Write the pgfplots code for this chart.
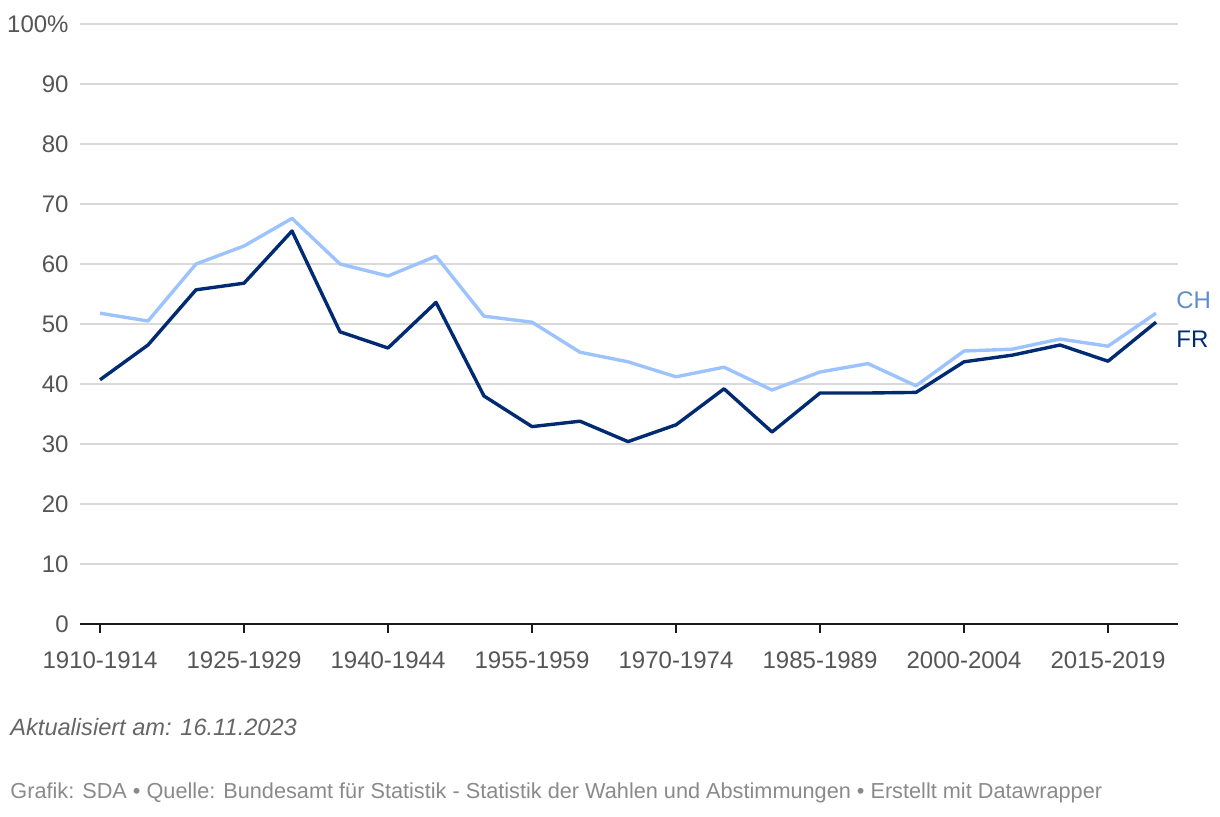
\documentclass[border=0pt]{standalone}
\usepackage{fontspec}
\setmainfont{Liberation Sans}
\usepackage{pgfplots}
\pgfplotsset{compat=1.18}
\definecolor{chblue}{HTML}{9DC3FF}
\definecolor{chlabel}{HTML}{5F8CCB}
\definecolor{frnavy}{HTML}{002B73}
\definecolor{gridgray}{HTML}{D9D9D9}
\definecolor{ticktext}{HTML}{555555}
\definecolor{updtext}{HTML}{666666}
\definecolor{foottext}{HTML}{8A8A8A}
\begin{document}
\begin{tikzpicture}[x=1pt,y=1pt]
\path[use as bounding box] (0,0) rectangle (610,408);
\begin{axis}[
  at={(40pt,96pt)}, anchor=south west,
  scale only axis, width=549pt, height=300pt,
  xmin=-0.4167, xmax=22.458, ymin=0, ymax=100,
  axis x line*=bottom, axis y line*=left,
  y axis line style={draw=none},
  x axis line style={draw=black!90, line width=0.9pt},
  xtick={0,3,6,9,12,15,18,21},
  xticklabels={1910-1914,1925-1929,1940-1944,1955-1959,1970-1974,1985-1989,2000-2004,2015-2019},
  ytick={0,10,...,100},
  yticklabels={0,10,20,30,40,50,60,70,80,90,100\%},
  ymajorgrids, grid style={gridgray, line width=0.7pt},
  tick align=outside, major tick length=4.5pt,
  xtick style={black!90, line width=0.9pt},
  ytick style={draw=none},
  tick label style={font=\fontsize{12}{14}\selectfont, text=ticktext},
  xticklabel style={anchor=north, inner sep=0pt, yshift=-9pt},
  yticklabel style={anchor=east, inner sep=0pt, xshift=-1pt},
  /pgf/number format/assume math mode=true,
  clip=false,
]
\addplot[chblue, line width=1.7pt, line join=round] table {
0 51.8
1 50.5
2 60.0
3 63.0
4 67.6
5 60.0
6 58.0
7 61.3
8 51.3
9 50.3
10 45.3
11 43.7
12 41.2
13 42.8
14 39.0
15 42.0
16 43.4
17 39.7
18 45.5
19 45.8
20 47.5
21 46.3
22 51.8
};
\addplot[frnavy, line width=1.7pt, line join=round] table {
0 40.7
1 46.5
2 55.7
3 56.8
4 65.5
5 48.7
6 46.0
7 53.6
8 38.0
9 32.9
10 33.8
11 30.4
12 33.2
13 39.2
14 32.0
15 38.5
16 38.5
17 38.6
18 43.7
19 44.8
20 46.5
21 43.8
22 50.3
};
\end{axis}
\node[anchor=west, inner sep=0pt, text=chlabel, font=\fontsize{12}{14}\selectfont] at (588,258) {CH};
\node[anchor=west, inner sep=0pt, text=frnavy, font=\fontsize{12}{14}\selectfont] at (588,238.5) {FR};
\node[anchor=west, inner sep=0pt, text=updtext, font=\fontsize{11.8}{14}\itshape] at (5,44.5) {Aktualisiert am: 16.11.2023};
\node[anchor=west, inner sep=0pt, text=foottext, font=\fontsize{10.85}{13}\selectfont] at (5,11.5) {Grafik: SDA • Quelle: Bundesamt für Statistik - Statistik der Wahlen und Abstimmungen • Erstellt mit Datawrapper};
\end{tikzpicture}
\end{document}
